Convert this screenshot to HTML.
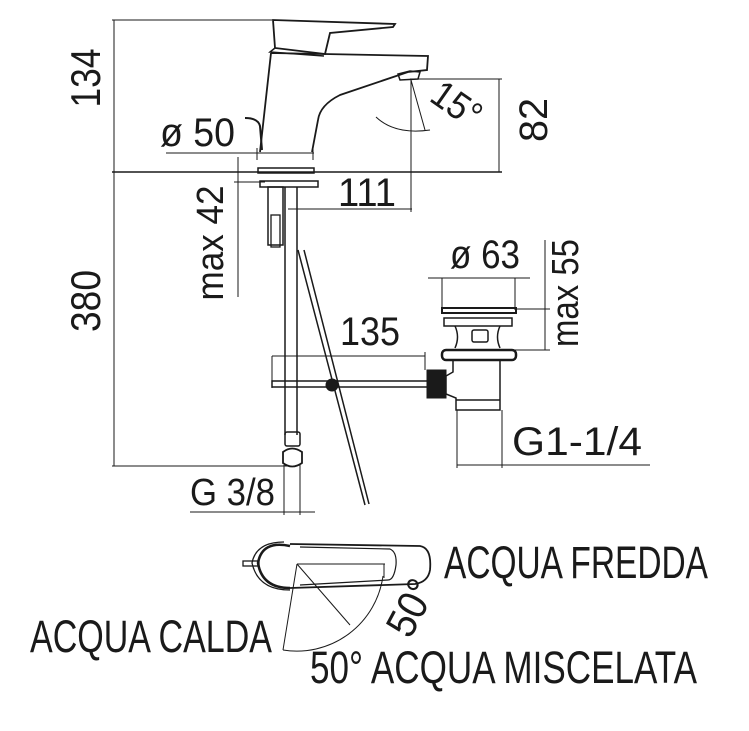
<!DOCTYPE html>
<html><head><meta charset="utf-8"><style>
html,body{margin:0;padding:0;background:#fff}
svg{display:block}
text{font-family:"Liberation Sans",sans-serif;fill:#1a1a1a}
</style></head><body>
<svg width="749" height="731" viewBox="0 0 749 731" xmlns="http://www.w3.org/2000/svg">
<g stroke="#1a1a1a" fill="none" stroke-width="1">
<!-- dimension lines -->
<line x1="112" y1="20" x2="272" y2="20"/>
<line x1="114" y1="20" x2="114" y2="466"/>
<line x1="112" y1="172" x2="502" y2="172" stroke-width="1.5"/>
<line x1="112" y1="466" x2="290" y2="466"/>
<line x1="410" y1="79" x2="502" y2="79"/>
<line x1="499" y1="79" x2="499" y2="172"/>
<line x1="411" y1="80" x2="411" y2="212"/>
<line x1="288" y1="209" x2="412" y2="209"/>
<line x1="166" y1="153" x2="314" y2="153"/>
<line x1="257" y1="148" x2="257" y2="160"/><line x1="313" y1="148" x2="313" y2="160"/>
<line x1="238" y1="157" x2="238" y2="297"/>
<line x1="234" y1="182" x2="265" y2="182"/>
<!-- faucet body -->
<path d="M273 20 L395 24 L393 27 L330 33 L325 54 L275 48 Z" stroke-width="1.8"/>
<path d="M275 48 L270 52 L324 56" stroke-width="1.5"/>
<path d="M271 53 L260 152 M271 53 L428 56 L427 70 L408 72 L340 95 Q320 105 318 120 L312 152" stroke-width="1.8"/>
<path d="M400 80 L398 74 L410 71 L420 72 L418 79 Z" stroke-width="1.5"/>
<path d="M245 118 Q258 118 260 126 L262 150" stroke-width="2"/>
<path d="M376 117 Q395 135 430 130" />
<line x1="411" y1="80" x2="425" y2="130"/>
<rect x="258" y="168" width="56" height="5" stroke-width="1.5"/>
<rect x="260" y="181" width="58" height="6" stroke-width="1.5"/>
<rect x="268" y="187" width="15" height="58" stroke-width="1.5"/>
<rect x="271" y="215" width="9" height="32" stroke-width="1.3"/>
<line x1="285" y1="187" x2="285" y2="435" stroke-width="1.5"/>
<line x1="297" y1="187" x2="297" y2="435" stroke-width="1.5"/>
<path d="M298 250 L365 505 M304 250 L369 504" stroke-width="1.5"/>
<!-- fitting -->
<rect x="285" y="432" width="15" height="14" rx="2" stroke-width="1.5"/>
<path d="M283 452 Q292 445 302 452 L302 463 Q292 470 283 463 Z" stroke-width="1.8"/>
<line x1="284" y1="465" x2="284" y2="515"/>
<line x1="300" y1="465" x2="300" y2="515"/>
<line x1="190" y1="512" x2="315" y2="512"/>
<!-- 135 rod -->
<line x1="272" y1="356" x2="425" y2="356"/>
<line x1="272" y1="356" x2="272" y2="388"/>
<line x1="425" y1="352" x2="425" y2="370"/>
<rect x="272" y="381" width="156" height="6" stroke-width="1.5"/>
<circle cx="332" cy="385" r="6" fill="#1a1a1a"/>
<rect x="427" y="370" width="19" height="28" fill="#1a1a1a"/>
<!-- drain -->
<line x1="428" y1="278" x2="530" y2="278"/>
<line x1="442" y1="278" x2="442" y2="310"/><line x1="515" y1="278" x2="515" y2="310"/>
<rect x="442" y="308" width="74" height="5" stroke-width="2"/>
<rect x="444" y="318" width="68" height="8" stroke-width="1.5"/>
<path d="M455 326 Q460 337 455 348 M500 326 Q495 337 500 348" stroke-width="1.5"/>
<rect x="472" y="330" width="16" height="12" rx="2" stroke-width="1.5"/>
<rect x="442" y="350" width="74" height="10" rx="4" stroke-width="2.5"/>
<path d="M453 360 L453 372 L446 376 L446 394 L456 398 L456 410 L500 410 L500 360" stroke-width="1.5"/>
<line x1="456" y1="400" x2="500" y2="400" stroke-width="1.5"/>
<line x1="457" y1="410" x2="457" y2="468"/>
<line x1="502" y1="410" x2="502" y2="468"/>
<line x1="457" y1="465" x2="650" y2="465"/>
<line x1="545" y1="240" x2="545" y2="350"/>
<line x1="515" y1="309" x2="550" y2="309"/>
<line x1="480" y1="350" x2="550" y2="350"/>
<!-- bottom lever -->
<path d="M290 546 Q262 540 258 563 Q262 588 290 588" stroke-width="2.5"/>
<path d="M284 542 Q256 542 252 563 Q258 590 290 590" stroke-width="1.3"/>
<rect x="243" y="561" width="16" height="5" stroke-width="1.3"/>
<path d="M290 544 L420 546 Q432 548 430 570 Q428 582 415 584 L290 588" stroke-width="1.8"/>
<path d="M300 547 L390 549 Q397 552 396 565 Q394 580 388 580 L300 585" stroke-width="1.2"/>
<line x1="297" y1="564" x2="385" y2="564"/>
<line x1="384" y1="564" x2="384" y2="578"/>
<line x1="297" y1="564" x2="283" y2="650"/>
<line x1="297" y1="564" x2="350" y2="625"/>
<path d="M283 650 A87 87 0 0 0 383 576"/>
</g>
<g>
<text transform="translate(100,78) rotate(-90)" font-size="42" text-anchor="middle" textLength="59" lengthAdjust="spacingAndGlyphs">134</text>
<text transform="translate(100,301) rotate(-90)" font-size="42" text-anchor="middle" textLength="62" lengthAdjust="spacingAndGlyphs">380</text>
<text transform="translate(223,243) rotate(-90)" font-size="38" text-anchor="middle" textLength="115" lengthAdjust="spacingAndGlyphs">max 42</text>
<text transform="translate(547,120) rotate(-90)" font-size="40" text-anchor="middle" textLength="44" lengthAdjust="spacingAndGlyphs">82</text>
<text transform="translate(578,293) rotate(-90)" font-size="38" text-anchor="middle" textLength="108" lengthAdjust="spacingAndGlyphs">max 55</text>
<text x="160" y="146" font-size="40" textLength="75" lengthAdjust="spacingAndGlyphs">ø 50</text>
<text x="338" y="206" font-size="40" textLength="58" lengthAdjust="spacingAndGlyphs">111</text>
<text x="340" y="345" font-size="40" textLength="60" lengthAdjust="spacingAndGlyphs">135</text>
<text x="450" y="268" font-size="40" textLength="70" lengthAdjust="spacingAndGlyphs">ø 63</text>
<text x="512" y="455" font-size="40" textLength="130" lengthAdjust="spacingAndGlyphs">G1-1/4</text>
<text x="190" y="505" font-size="38" textLength="85" lengthAdjust="spacingAndGlyphs">G 3/8</text>
<text transform="translate(428,100) rotate(35)" font-size="38" textLength="52" lengthAdjust="spacingAndGlyphs">15°</text>
<text x="444" y="578" font-size="45" textLength="264" lengthAdjust="spacingAndGlyphs">ACQUA FREDDA</text>
<text x="30" y="652" font-size="45" textLength="242" lengthAdjust="spacingAndGlyphs">ACQUA CALDA</text>
<text x="310" y="683" font-size="45" textLength="387" lengthAdjust="spacingAndGlyphs">50° ACQUA MISCELATA</text>
<text transform="translate(410,640) rotate(-62)" font-size="42" textLength="58" lengthAdjust="spacingAndGlyphs">50°</text>
</g>
</svg>
</body></html>
